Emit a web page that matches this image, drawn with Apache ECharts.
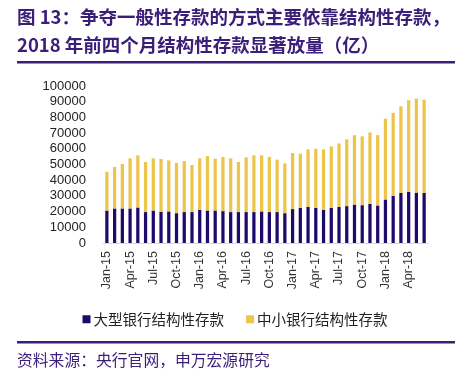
<!DOCTYPE html>
<html>
<head>
<meta charset="utf-8">
<script src="https://cdn.jsdelivr.net/npm/echarts@6/dist/echarts.min.js"></script>
<style>
  html, body { margin: 0; padding: 0; background: #fff; }
  #chart { width: 470px; height: 375px; }
</style>
</head>
<body>
<div id="chart"></div>
<script>
// months Jan-15 .. Jun-18
const months = ['Jan-15','Feb-15','Mar-15','Apr-15','May-15','Jun-15','Jul-15','Aug-15','Sep-15','Oct-15','Nov-15','Dec-15',
  'Jan-16','Feb-16','Mar-16','Apr-16','May-16','Jun-16','Jul-16','Aug-16','Sep-16','Oct-16','Nov-16','Dec-16',
  'Jan-17','Feb-17','Mar-17','Apr-17','May-17','Jun-17','Jul-17','Aug-17','Sep-17','Oct-17','Nov-17','Dec-17',
  'Jan-18','Feb-18','Mar-18','Apr-18','May-18','Jun-18'];

// 大型银行结构性存款
const bigBanks = [20700, 22000, 22000, 22000, 22600, 19700, 20700, 19900, 20100, 19000, 19700, 19700,
  21100, 20700, 20700, 20300, 19700, 19700, 19700, 19700, 20100, 19700, 19700, 19000,
  21600, 22400, 23000, 22400, 21100, 22400, 23000, 23500, 24500, 24100, 24900, 23900,
  27700, 30000, 31900, 32600, 32100, 31900];

const totals = [45400, 48400, 50300, 53900, 55800, 51600, 53900, 53500, 52600, 51000, 52200, 49700,
  53900, 55400, 53700, 54800, 53900, 51600, 54500, 55800, 55800, 54800, 53100, 50700,
  57300, 56900, 59600, 60000, 59600, 61500, 63400, 66000, 68700, 67900, 70400, 68700,
  79100, 82900, 87100, 90900, 92000, 91300];

// 中小银行结构性存款
const smallBanks = totals.map((t, i) => t - bigBanks[i]);

const chart = echarts.init(document.getElementById('chart'));
const purple = '#3a1e78';

chart.setOption({
  animation: false,
  textStyle: { fontFamily: 'Liberation Sans, Arial, sans-serif' },
  graphic: [
    { type: 'text', left: 17, top: 8,
      style: { text: '图 13：争夺一般性存款的方式主要依靠结构性存款，', fill: purple,
        font: 'bold 18.5px "Noto Sans CJK SC", sans-serif' } },
    { type: 'text', left: 17, top: 36,
      style: { text: '2018 年前四个月结构性存款显著放量（亿）', fill: purple,
        font: 'bold 18.5px "Noto Sans CJK SC", sans-serif' } },
    { type: 'rect', shape: { x: 17, y: 61, width: 438, height: 2.5 }, style: { fill: purple } },
    { type: 'rect', shape: { x: 17, y: 341, width: 438, height: 2.5 }, style: { fill: purple } },
    { type: 'text', left: 17, top: 352,
      style: { text: '资料来源：央行官网，申万宏源研究', fill: purple,
        font: '15.8px "Noto Sans CJK SC", sans-serif' } }
  ],
  legend: {
    top: 307, left: 'center',
    itemWidth: 8, itemHeight: 8, itemGap: 22,
    icon: 'rect',
    textStyle: { fontSize: 14.5, color: '#222', fontFamily: '"Noto Sans CJK SC", sans-serif', padding: [0, 0, 0, -2] },
    data: ['大型银行结构性存款', '中小银行结构性存款']
  },
  grid: { left: 103, right: 42, top: 86, bottom: 132 },
  xAxis: {
    type: 'category',
    data: months,
    axisTick: { show: false },
    axisLine: { lineStyle: { color: '#d9d6ef' } },
    axisLabel: {
      interval: 2, rotate: 90, fontSize: 12.5, color: '#333', margin: 8
    }
  },
  yAxis: {
    type: 'value',
    min: 0, max: 100000, interval: 10000,
    splitLine: { show: false },
    axisLine: { show: false },
    axisTick: { show: false },
    axisLabel: { fontSize: 13, color: '#222', margin: 17, formatter: (v) => String(v) }
  },
  series: [
    { name: '大型银行结构性存款', type: 'bar', stack: 'a', data: bigBanks,
      barWidth: '42%', itemStyle: { color: '#1e0a6b' } },
    { name: '中小银行结构性存款', type: 'bar', stack: 'a', data: smallBanks,
      itemStyle: { color: '#ecc54a' } }
  ]
});
</script>
</body>
</html>
